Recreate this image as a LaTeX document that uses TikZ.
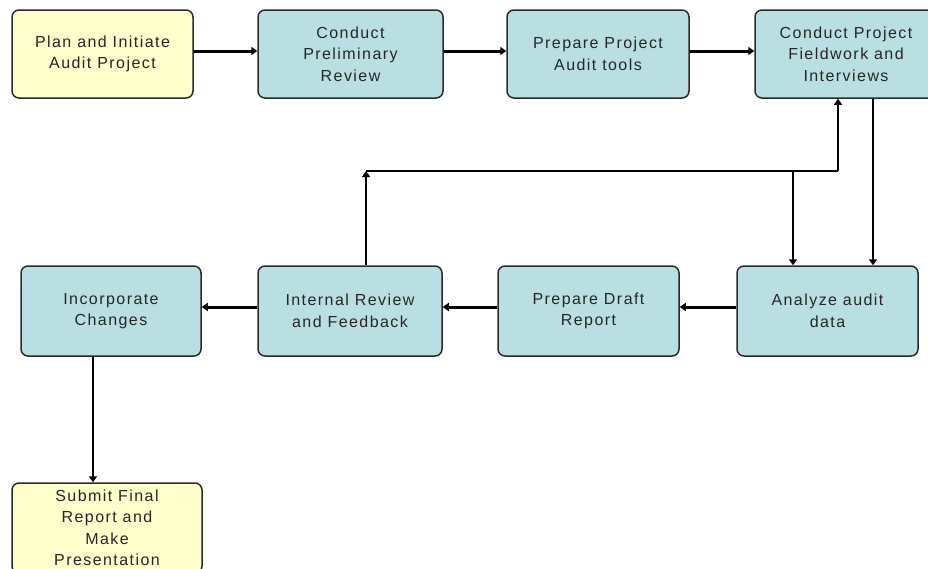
\documentclass[tikz,border=0pt]{standalone}
\usepackage{fontspec}
\setmainfont{Liberation Sans}
\newfontfamily\visiofont[LetterSpace=9]{Liberation Sans}
\usetikzlibrary{arrows.meta}
\definecolor{stepblue}{HTML}{B9DFE3}
\definecolor{stepyellow}{HTML}{FFFFCC}
\definecolor{stepline}{HTML}{2A2A2A}

\begin{document}
\begin{tikzpicture}[x=1pt, y=-1pt,
    box/.style={draw=stepline, line width=1.5pt, rounded corners=7pt,
        align=center, inner sep=0pt, minimum height=88pt, text=black!85,
        font=\visiofont\fontsize{16}{21.5}\selectfont},
    bluebox/.style={box, fill=stepblue},
    yellowbox/.style={box, fill=stepyellow},
    flow/.style={line width=3pt, -{Triangle[length=6pt,width=8pt]}},
    loopline/.style={line width=1.8pt}]
            \useasboundingbox (0,0) rectangle (928,568);
            \clip (0,0) rectangle (928,568);

            % Top row
            \node[yellowbox, minimum width=181pt] (plan) at (102.5,54) {Plan and Initiate\\Audit Project};
            \node[bluebox, minimum width=185pt] (prelim) at (350.5,54) {Conduct\\Preliminary\\Review};
            \node[bluebox, minimum width=182pt] (tools) at (598,54) {Prepare Project\\Audit tools};
            \node[bluebox, minimum width=182pt] (field) at (846,54) {Conduct Project\\Fieldwork and\\Interviews};

            % Bottom row
            \node[bluebox, minimum width=180pt, minimum height=90pt] (incorp) at (111,311) {Incorporate\\Changes};
            \node[bluebox, minimum width=184pt, minimum height=90pt] (internal) at (350,311) {Internal Review\\and Feedback};
            \node[bluebox, minimum width=181pt, minimum height=90pt] (draft) at (588.5,311) {Prepare Draft\\Report};
            \node[bluebox, minimum width=181pt, minimum height=90pt] (analyze) at (827.5,311) {Analyze audit\\data};

            % Last step, runs off the page
            \node[yellowbox, minimum width=190pt, minimum height=90pt] (final) at (107,528) {Submit Final\\Report and\\Make\\Presentation};

            % Forward flow
            \draw[flow] ([yshift=3pt]plan.east) -- ([yshift=3pt]prelim.west);
            \draw[flow] ([yshift=3pt]prelim.east) -- ([yshift=3pt]tools.west);
            \draw[flow] ([yshift=3pt]tools.east) -- ([yshift=3pt]field.west);
            \draw[flow, line width=2.6pt] (field.south -| 873,0) -- (analyze.north -| 873,0);
            \draw[flow] ([yshift=4pt]analyze.west) -- ([yshift=4pt]draft.east);
            \draw[flow] ([yshift=4pt]draft.west) -- ([yshift=4pt]internal.east);
            \draw[flow] ([yshift=4pt]internal.west) -- ([yshift=4pt]incorp.east);
            \draw[line width=1.6pt, -{Triangle[length=6pt,width=8pt]}] (incorp.south -| 93,0) -- (final.north -| 93,0);

            % Feedback loop
            \coordinate (jleft) at (366,171);
            \coordinate (jmid) at (793,171);
            \coordinate (jright) at (838,171);
            \draw[flow, line width=2.6pt] (internal.north -| jleft) -- (jleft);
            \draw[loopline] (jleft) -- (jright);
            \draw[flow, line width=2.6pt] (jright) -- (field.south -| jright);
            \draw[flow, line width=2.6pt] (jmid) -- (analyze.north -| jmid);

        \end{tikzpicture}
\end{document}
